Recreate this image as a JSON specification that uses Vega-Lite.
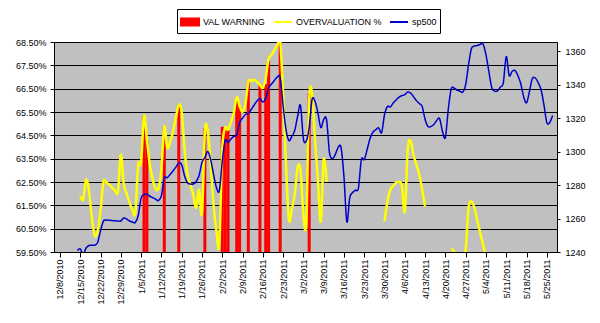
{
"$schema": "https://vega.github.io/schema/vega-lite/v6.json",
"width": 503, "height": 210,
"autosize": {"type": "none"},
"padding": {"left": 54, "top": 42, "right": 43, "bottom": 71},
"background": "#ffffff",
"data": {"values": [
{"d":"2010-12-14","sp":1240.9},
{"d":"2010-12-15","sp":1241.9,"ov":0.6189},
{"d":"2010-12-16","sp":1238.5,"ov":0.6175},
{"d":"2010-12-17","sp":1242.4,"ov":0.6260},
{"d":"2010-12-18","sp":1243.9,"ov":0.6213},
{"d":"2010-12-19","sp":1244.1,"ov":0.6098},
{"d":"2010-12-20","sp":1244.1,"ov":0.6021},
{"d":"2010-12-21","sp":1245.7,"ov":0.6038},
{"d":"2010-12-22","sp":1252.6,"ov":0.6128},
{"d":"2010-12-23","sp":1258.5,"ov":0.6251},
{"d":"2010-12-24","sp":1259.0,"ov":0.6247},
{"d":"2010-12-25","sp":1259.0,"ov":0.6239},
{"d":"2010-12-26","sp":1258.8,"ov":0.6226},
{"d":"2010-12-27","sp":1258.6,"ov":0.6213},
{"d":"2010-12-28","sp":1258.5,"ov":0.6209},
{"d":"2010-12-29","sp":1258.5,"ov":0.6367},
{"d":"2010-12-30","sp":1260.3,"ov":0.6243},
{"d":"2010-12-31","sp":1259.7,"ov":0.6200},
{"d":"2011-01-01","sp":1258.5,"ov":0.6162},
{"d":"2011-01-02","sp":1257.9,"ov":0.6132},
{"d":"2011-01-03","sp":1257.6,"ov":0.6119},
{"d":"2011-01-04","sp":1261.8,"ov":0.6324},
{"d":"2011-01-05","sp":1272.2,"ov":0.6333},
{"d":"2011-01-06","sp":1274.3,"ov":0.6534,"w":0.6534},
{"d":"2011-01-07","sp":1274.6,"ov":0.6431,"w":0.6431},
{"d":"2011-01-08","sp":1273.3,"ov":0.6324},
{"d":"2011-01-09","sp":1272.5,"ov":0.6260},
{"d":"2011-01-10","sp":1271.6,"ov":0.6222},
{"d":"2011-01-11","sp":1270.7,"ov":0.6222},
{"d":"2011-01-12","sp":1273.7,"ov":0.6303},
{"d":"2011-01-13","sp":1284.2,"ov":0.6487,"w":0.6487},
{"d":"2011-01-14","sp":1284.3,"ov":0.6397},
{"d":"2011-01-15","sp":1286.3,"ov":0.6423},
{"d":"2011-01-16","sp":1288.4,"ov":0.6465},
{"d":"2011-01-17","sp":1290.7,"ov":0.6525},
{"d":"2011-01-18","sp":1293.1,"ov":0.6581,"w":0.6581},
{"d":"2011-01-19","sp":1292.2,"ov":0.6551},
{"d":"2011-01-20","sp":1285.4,"ov":0.6388},
{"d":"2011-01-21","sp":1281.3,"ov":0.6281},
{"d":"2011-01-22","sp":1280.6,"ov":0.6239},
{"d":"2011-01-23","sp":1280.6,"ov":0.6196},
{"d":"2011-01-24","sp":1282.1,"ov":0.6140},
{"d":"2011-01-25","sp":1285.7,"ov":0.6217},
{"d":"2011-01-26","sp":1293.4,"ov":0.6115},
{"d":"2011-01-27","sp":1296.4,"ov":0.6465,"w":0.6480},
{"d":"2011-01-28","sp":1300.0,"ov":0.6470},
{"d":"2011-01-29","sp":1295.2,"ov":0.6324},
{"d":"2011-01-30","sp":1286.3,"ov":0.6153},
{"d":"2011-01-31","sp":1278.5,"ov":0.6038},
{"d":"2011-02-01","sp":1276.7,"ov":0.5982},
{"d":"2011-02-02","sp":1294.0,"ov":0.6388,"w":0.6487},
{"d":"2011-02-03","sp":1306.6,"ov":0.6482,"w":0.6482},
{"d":"2011-02-04","sp":1305.4,"ov":0.6474,"w":0.6474},
{"d":"2011-02-05","sp":1307.5,"ov":0.6508},
{"d":"2011-02-06","sp":1309.0,"ov":0.6546},
{"d":"2011-02-07","sp":1310.1,"ov":0.6615,"w":0.6615},
{"d":"2011-02-08","sp":1317.3,"ov":0.6576,"w":0.6576},
{"d":"2011-02-09","sp":1320.0,"ov":0.6551},
{"d":"2011-02-10","sp":1322.1,"ov":0.6585},
{"d":"2011-02-11","sp":1322.7,"ov":0.6679,"w":0.6679},
{"d":"2011-02-12","sp":1325.1,"ov":0.6683},
{"d":"2011-02-13","sp":1327.8,"ov":0.6688},
{"d":"2011-02-14","sp":1330.1,"ov":0.6679},
{"d":"2011-02-15","sp":1331.6,"ov":0.6666,"w":0.6666},
{"d":"2011-02-16","sp":1329.5,"ov":0.6653},
{"d":"2011-02-17","sp":1331.8,"ov":0.6696,"w":0.6670},
{"d":"2011-02-18","sp":1337.9,"ov":0.6777,"w":0.6770},
{"d":"2011-02-19","sp":1340.3,"ov":0.6794},
{"d":"2011-02-20","sp":1342.4,"ov":0.6816},
{"d":"2011-02-21","sp":1344.5,"ov":0.6837},
{"d":"2011-02-22","sp":1343.9,"ov":0.6854,"w":0.6854},
{"d":"2011-02-23","sp":1327.5,"ov":0.6623},
{"d":"2011-02-24","sp":1313.1,"ov":0.6324},
{"d":"2011-02-25","sp":1306.6,"ov":0.6089},
{"d":"2011-02-26","sp":1309.0,"ov":0.6132},
{"d":"2011-02-27","sp":1312.5,"ov":0.6196},
{"d":"2011-02-28","sp":1320.9,"ov":0.6311},
{"d":"2011-03-01","sp":1327.5,"ov":0.6303},
{"d":"2011-03-02","sp":1307.6,"ov":0.6110},
{"d":"2011-03-03","sp":1306.3,"ov":0.6080},
{"d":"2011-03-04","sp":1314.3,"ov":0.6602,"w":0.6630},
{"d":"2011-03-05","sp":1331.0,"ov":0.6628},
{"d":"2011-03-06","sp":1330.0,"ov":0.6431},
{"d":"2011-03-07","sp":1323.3,"ov":0.6260},
{"d":"2011-03-08","sp":1314.3,"ov":0.6080},
{"d":"2011-03-09","sp":1319.1,"ov":0.6346},
{"d":"2011-03-10","sp":1319.1,"ov":0.6251},
{"d":"2011-03-11","sp":1299.4},
{"d":"2011-03-12","sp":1295.8},
{"d":"2011-03-13","sp":1298.2},
{"d":"2011-03-14","sp":1302.4},
{"d":"2011-03-15","sp":1302.4},
{"d":"2011-03-16","sp":1285.0},
{"d":"2011-03-17","sp":1258.0},
{"d":"2011-03-18","sp":1272.5},
{"d":"2011-03-19","sp":1275.5},
{"d":"2011-03-20","sp":1277.0},
{"d":"2011-03-21","sp":1278.2},
{"d":"2011-03-22","sp":1295.2},
{"d":"2011-03-23","sp":1295.2},
{"d":"2011-03-24","sp":1301.2},
{"d":"2011-03-25","sp":1307.8},
{"d":"2011-03-26","sp":1311.6},
{"d":"2011-03-27","sp":1313.1},
{"d":"2011-03-28","sp":1314.1},
{"d":"2011-03-29","sp":1311.3},
{"d":"2011-03-30","sp":1322.1,"ov":0.6082},
{"d":"2011-03-31","sp":1326.9,"ov":0.6166},
{"d":"2011-04-01","sp":1326.6,"ov":0.6217},
{"d":"2011-04-02","sp":1329.0,"ov":0.6234},
{"d":"2011-04-03","sp":1330.8,"ov":0.6247},
{"d":"2011-04-04","sp":1332.5,"ov":0.6251},
{"d":"2011-04-05","sp":1333.4,"ov":0.6234},
{"d":"2011-04-06","sp":1334.0,"ov":0.6123},
{"d":"2011-04-07","sp":1335.5,"ov":0.6388},
{"d":"2011-04-08","sp":1334.9,"ov":0.6427},
{"d":"2011-04-09","sp":1332.8,"ov":0.6367},
{"d":"2011-04-10","sp":1330.4,"ov":0.6324},
{"d":"2011-04-11","sp":1328.7,"ov":0.6281},
{"d":"2011-04-12","sp":1326.9,"ov":0.6217},
{"d":"2011-04-13","sp":1319.1,"ov":0.6145},
{"d":"2011-04-14","sp":1314.9},
{"d":"2011-04-15","sp":1314.9},
{"d":"2011-04-16","sp":1316.1},
{"d":"2011-04-17","sp":1318.5},
{"d":"2011-04-18","sp":1319.7},
{"d":"2011-04-19","sp":1312.0},
{"d":"2011-04-20","sp":1308.4},
{"d":"2011-04-21","sp":1325.1},
{"d":"2011-04-22","sp":1337.3,"ov":0.5964},
{"d":"2011-04-23","sp":1337.9,"ov":0.5952},
{"d":"2011-04-24","sp":1336.7,"ov":0.5927},
{"d":"2011-04-25","sp":1336.1,"ov":0.5910},
{"d":"2011-04-26","sp":1335.5,"ov":0.5920},
{"d":"2011-04-27","sp":1340.0,"ov":0.5961},
{"d":"2011-04-28","sp":1351.9,"ov":0.6140},
{"d":"2011-04-29","sp":1361.5,"ov":0.6166},
{"d":"2011-04-30","sp":1363.0,"ov":0.6140},
{"d":"2011-05-01","sp":1363.3,"ov":0.6085},
{"d":"2011-05-02","sp":1363.9,"ov":0.6033},
{"d":"2011-05-03","sp":1364.2,"ov":0.5982},
{"d":"2011-05-04","sp":1357.9,"ov":0.5927},
{"d":"2011-05-05","sp":1347.8},
{"d":"2011-05-06","sp":1338.2},
{"d":"2011-05-07","sp":1336.1},
{"d":"2011-05-08","sp":1336.2},
{"d":"2011-05-09","sp":1338.5},
{"d":"2011-05-10","sp":1341.2},
{"d":"2011-05-11","sp":1356.7},
{"d":"2011-05-12","sp":1345.4},
{"d":"2011-05-13","sp":1347.8},
{"d":"2011-05-14","sp":1348.4},
{"d":"2011-05-15","sp":1345.4},
{"d":"2011-05-16","sp":1340.6},
{"d":"2011-05-17","sp":1332.8},
{"d":"2011-05-18","sp":1329.1},
{"d":"2011-05-19","sp":1335.8},
{"d":"2011-05-20","sp":1343.6},
{"d":"2011-05-21","sp":1343.9},
{"d":"2011-05-22","sp":1341.2},
{"d":"2011-05-23","sp":1337.0},
{"d":"2011-05-24","sp":1328.0},
{"d":"2011-05-25","sp":1317.3},
{"d":"2011-05-26","sp":1317.3},
{"d":"2011-05-27","sp":1321.5}
]},
"encoding": {
  "x": {"field": "d", "type": "temporal",
    "scale": {"type": "utc", "domain": [{"year":2010,"month":12,"date":7,"hours":16,"utc":true},{"year":2011,"month":5,"date":26,"hours":19,"utc":true}]},
    "axis": {"title": null, "format": "%-m/%-d/%Y", "labelAngle": -90, "tickSize": 5, "labelPadding": 2, "grid": false, "labelOverlap": false, "labelBound": false, "labelFlush": false,
      "values": [
        {"year":2010,"month":12,"date":8,"utc":true},{"year":2010,"month":12,"date":15,"utc":true},{"year":2010,"month":12,"date":22,"utc":true},{"year":2010,"month":12,"date":29,"utc":true},
        {"year":2011,"month":1,"date":5,"utc":true},{"year":2011,"month":1,"date":12,"utc":true},{"year":2011,"month":1,"date":19,"utc":true},{"year":2011,"month":1,"date":26,"utc":true},
        {"year":2011,"month":2,"date":2,"utc":true},{"year":2011,"month":2,"date":9,"utc":true},{"year":2011,"month":2,"date":16,"utc":true},{"year":2011,"month":2,"date":23,"utc":true},
        {"year":2011,"month":3,"date":2,"utc":true},{"year":2011,"month":3,"date":9,"utc":true},{"year":2011,"month":3,"date":16,"utc":true},{"year":2011,"month":3,"date":23,"utc":true},{"year":2011,"month":3,"date":30,"utc":true},
        {"year":2011,"month":4,"date":6,"utc":true},{"year":2011,"month":4,"date":13,"utc":true},{"year":2011,"month":4,"date":20,"utc":true},{"year":2011,"month":4,"date":27,"utc":true},
        {"year":2011,"month":5,"date":4,"utc":true},{"year":2011,"month":5,"date":11,"utc":true},{"year":2011,"month":5,"date":18,"utc":true},{"year":2011,"month":5,"date":25,"utc":true}
      ]}}
},
"layer": [
  {"layer": [
    {"transform": [{"filter": "isValid(datum.w)"}],
     "mark": {"type": "bar", "width": 3, "clip": true},
     "encoding": {
       "y": {"field": "w", "type": "quantitative", "scale": {"domain": [0.595, 0.685], "zero": false, "nice": false},
         "axis": {"orient": "left", "title": null, "format": ".2%", "values": [0.595,0.605,0.615,0.625,0.635,0.645,0.655,0.665,0.675,0.685], "grid": true, "gridColor": "#000000", "gridWidth": 1, "tickSize": 4, "labelPadding": 4}},
       "color": {"datum": "VAL WARNING", "type": "nominal",
         "scale": {"domain": ["VAL WARNING", "OVERVALUATION %", "sp500"], "range": ["#FF0000", "#FFFF00", "#0000CC"]},
         "legend": {"orient": "none", "legendX": 123, "legendY": -33, "direction": "horizontal", "title": null,
           "symbolType": "stroke", "symbolSize": 324, "symbolStrokeWidth": 2,
           "labelFont": "Liberation Sans", "labelFontSize": 9, "labelColor": "#000000", "labelLimit": 300,
           "padding": 3, "strokeColor": "#000000", "fillColor": "#FFFFFF", "cornerRadius": 0,
           "columnPadding": 4, "labelOffset": 3, "gridAlign": "none",
           "encode": {"symbols": {"update": {
             "shape": {"signal": "datum.value === 'VAL WARNING' ? 'M-1,-0.4H1V0.4H-1Z' : 'stroke'"},
             "fill": {"signal": "datum.value === 'VAL WARNING' ? '#FF0000' : 'transparent'"},
             "stroke": {"signal": "datum.value === 'VAL WARNING' ? 'transparent' : scale('color', datum.value)"},
             "strokeWidth": {"value": 2}}}}}}
     }},
    {"mark": {"type": "line", "interpolate": "cardinal", "strokeWidth": 2.5, "clip": true, "invalid": "break-paths-show-domains"},
     "encoding": {
       "y": {"field": "ov", "type": "quantitative", "scale": {"domain": [0.595, 0.685], "zero": false, "nice": false},
         "axis": {"orient": "left", "title": null, "format": ".2%", "values": [0.595,0.605,0.615,0.625,0.635,0.645,0.655,0.665,0.675,0.685], "grid": true, "gridColor": "#000000", "gridWidth": 1, "tickSize": 4, "labelPadding": 4}},
       "color": {"datum": "OVERVALUATION %", "type": "nominal"}
     }}
  ]},
  {"mark": {"type": "line", "interpolate": "cardinal", "strokeWidth": 1.5, "clip": true},
   "encoding": {
     "y": {"field": "sp", "type": "quantitative", "scale": {"domain": [1240, 1365.4], "zero": false, "nice": false},
       "axis": {"orient": "right", "title": null, "format": "d", "values": [1240,1260,1280,1300,1320,1340,1360], "grid": false, "tickSize": 3, "labelPadding": 5}},
     "color": {"datum": "sp500", "type": "nominal"}
   }}
],
"resolve": {"scale": {"y": "independent"}},
"config": {
  "font": "Liberation Sans",
  "view": {"fill": "#C0C0C0", "stroke": "#808080", "strokeWidth": 1},
  "axis": {"labelFont": "Liberation Sans", "labelFontSize": 9, "labelColor": "#000000", "domainColor": "#000000", "tickColor": "#000000", "domainWidth": 1, "tickWidth": 1}
}
}
